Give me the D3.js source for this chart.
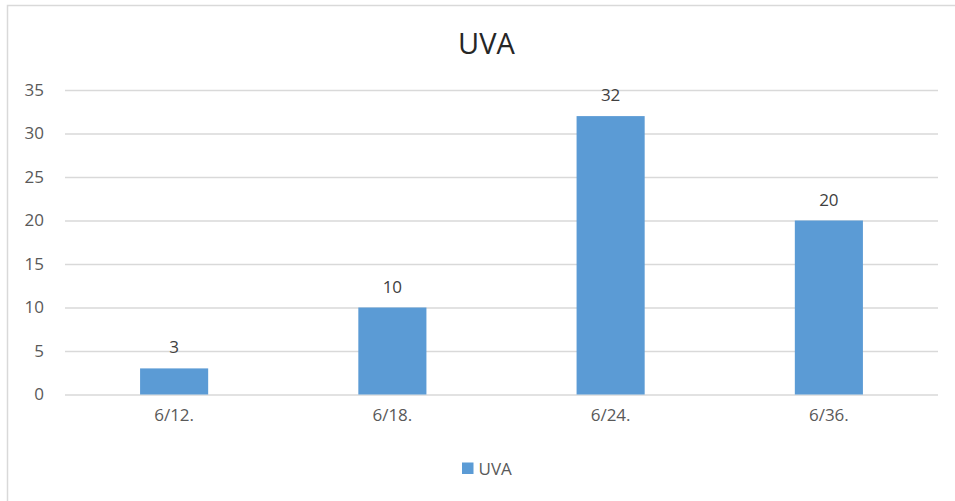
<!DOCTYPE html>
<html><head><meta charset="utf-8">
<script src="https://cdn.jsdelivr.net/npm/d3@7/dist/d3.min.js"></script>
<style>html,body{margin:0;padding:0;background:#fff;overflow:hidden}</style>
</head><body>
<svg id="chart" width="955" height="501"></svg>
<script>
const categories = ["6/12.", "6/18.", "6/24.", "6/36."];
const uvaValues = [3, 10, 32, 20];
const yTicks = [0, 5, 10, 15, 20, 25, 30, 35];
const seriesName = "UVA";
const chartTitle = "UVA";

const font = "'Open Sans', 'Noto Sans', sans-serif";
const svg = d3.select("#chart");
const plotLeft = 65, plotRight = 938, plotTop = 90, plotBottom = 394.5;

svg.append("rect").attr("x", 7.5).attr("y", 5.5).attr("width", 1000).attr("height", 600)
  .attr("fill", "#fff").attr("stroke", "#D9D9D9").attr("stroke-width", 1.5);

const x = d3.scaleBand().domain(categories).range([plotLeft, plotRight]).paddingInner(0.688).paddingOuter(0.344);
const y = d3.scaleLinear().domain([0, 35]).range([plotBottom, plotTop]);

// gridlines + y labels
const yAxis = d3.axisLeft(y).tickValues(yTicks).tickSize(-(plotRight - plotLeft)).tickPadding(21).tickFormat(d3.format("d"));
const gy = svg.append("g").attr("transform", `translate(${plotLeft},0)`).call(yAxis);
gy.select(".domain").remove();
gy.selectAll(".tick line").attr("stroke", "#D9D9D9").attr("stroke-width", 1.3);
gy.selectAll(".tick text").attr("fill", "#595959").style("font-family", font).style("font-size", "17px");

// x labels
const xAxis = d3.axisBottom(x).tickSize(0).tickPadding(14);
const gx = svg.append("g").attr("transform", `translate(0,${plotBottom})`).call(xAxis);
gx.select(".domain").remove();
gx.selectAll(".tick text").attr("fill", "#595959").style("font-family", font).style("font-size", "17px");

// bars
svg.append("g").selectAll("rect").data(uvaValues).join("rect")
  .attr("x", (d, i) => x(categories[i]))
  .attr("width", x.bandwidth())
  .attr("y", d => y(d))
  .attr("height", d => y(0) - y(d))
  .attr("fill", "#5B9BD5");

// value labels
svg.append("g").selectAll("text").data(uvaValues).join("text")
  .attr("x", (d, i) => x(categories[i]) + x.bandwidth() / 2)
  .attr("y", d => y(d) - 15)
  .attr("text-anchor", "middle")
  .attr("fill", "#404040")
  .style("font-family", font).style("font-size", "17px")
  .text(d => d);

// title
svg.append("text").attr("x", 486.5).attr("y", 54).attr("text-anchor", "middle")
  .attr("fill", "#262626").style("font-family", font).style("font-size", "29px")
  .text(chartTitle);

// legend
svg.append("rect").attr("x", 462).attr("y", 462.5).attr("width", 11.5).attr("height", 11.5).attr("fill", "#5B9BD5");
svg.append("text").attr("x", 478.5).attr("y", 474.5).attr("fill", "#595959")
  .style("font-family", font).style("font-size", "17px").text(seriesName);
</script>
</body></html>
